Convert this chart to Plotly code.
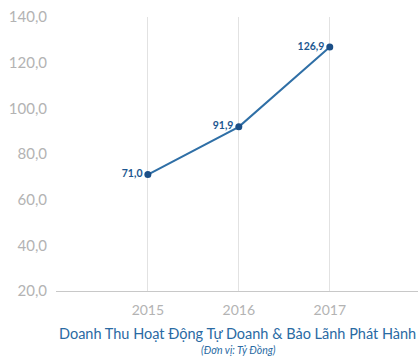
import plotly.graph_objects as go

years = ["2015", "2016", "2017"]
revenue = [71.0, 91.9, 126.9]
y_ticks = [20, 40, 60, 80, 100, 120, 140]

title_main = "Doanh Thu Hoạt Động Tự Doanh & Bảo Lãnh Phát Hành"
title_sub = "(Đơn vị: Tỷ Đồng)"

FONT = "Lato"
labels = [f"{v:.1f}".replace(".", ",") for v in revenue]

# plot area in pixels: left 56, right 418, top 17, bottom 291
PL, PR, PT, PB = 56, 418, 17, 291

fig = go.Figure()
fig.add_trace(go.Scatter(
    x=years, y=revenue,
    mode="lines+markers+text",
    line=dict(color="#2f6fa6", width=2),
    marker=dict(color="#1b4f87", size=7),
    text=labels,
    textposition="middle left",
    textfont=dict(family=FONT, size=10.5, color="#1d5790", weight="bold"),
    cliponaxis=False,
    hoverinfo="skip",
))

fig.update_layout(
    width=418, height=358,
    margin=dict(l=PL, r=418 - PR, t=PT, b=358 - PB),
    paper_bgcolor="white", plot_bgcolor="white",
    separators=",.",
    showlegend=False,
    font=dict(family=FONT),
    xaxis=dict(
        type="category",
        range=[-1.01, 2.97],
        showgrid=True, gridcolor="#e2e2e2", gridwidth=1,
        showline=True, linecolor="#c8c8c8", linewidth=1,
        ticks="", ticklabelstandoff=6,
        tickfont=dict(family=FONT, size=14, color="#b3b3b3"),
        zeroline=False,
    ),
    yaxis=dict(
        range=[20, 140],
        tickvals=y_ticks,
        tickformat=".1f",
        showgrid=False, zeroline=False, showline=False,
        ticks="", ticklabelstandoff=8,
        tickfont=dict(family=FONT, size=15, color="#b3b3b3"),
    ),
)

W, H = PR - PL, PB - PT
fig.layout.annotations = [
    dict(text=title_main, xref="paper", yref="paper",
         x=(237 - PL) / W, y=-(333 - PB) / H,
         xanchor="center", yanchor="middle", showarrow=False,
         font=dict(family=FONT, size=14.5, color="#2a6aa3")),
    dict(text="<i>" + title_sub + "</i>", xref="paper", yref="paper",
         x=(238 - PL) / W, y=-(350 - PB) / H,
         xanchor="center", yanchor="middle", showarrow=False,
         font=dict(family=FONT, size=10.5, color="#2a6aa3")),
]

fig.write_html("out.html")
